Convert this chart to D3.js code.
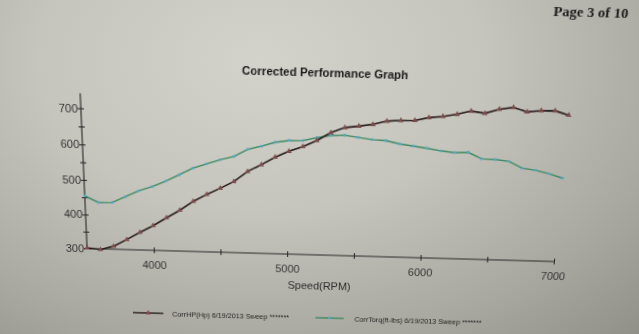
<!DOCTYPE html>
<html><head><meta charset="utf-8">
<script src="https://cdn.jsdelivr.net/npm/d3@7"></script>
<style>
html,body{margin:0;padding:0;width:639px;height:334px;overflow:hidden;}
body{background: radial-gradient(ellipse 560px 380px at 260px 60px, #d3d3cb 0%, #c6c5bd 40%, #a9a8a0 75%, #8f8e87 100%);}
#chart{position:absolute;left:0;top:0;transform-origin:320px 255px;transform:rotate(1.6deg) perspective(800px) rotateX(-14deg);}
</style></head><body>
<svg id="chart" width="639" height="334"></svg>
<script>
const rpm = [3500,3600,3700,3800,3900,4000,4100,4200,4300,4400,4500,4600,4700,4800,4900,5000,5100,5200,5300,5400,5500,5600,5700,5800,5900,6000,6100,6200,6300,6400,6500,6600,6700,6800,6900,7000];
const corrHP = [302,298,309,330,352,373,397,420,447,468,487,507,537,557,579,597,611,629,652,667,672,678,688,691,692,701,705,712,722,717,729,735,724,728,729,718];
const corrTorque = [454,436,437,455,473,486,503,522,542,555,568,578,599,609,621,627,628,637,644,646,641,636,634,626,621,616,610,606,608,591,590,586,568,563,554,543];
const xTicks = [4000,4500,5000,5500,6000,6500,7000];
const xTickLabels = [4000,5000,6000,7000];
const yTicks = [300,350,400,450,500,550,600,650,700];
const yTickLabels = [300,400,500,600,700];
const seriesNames = ["CorrHP(Hp) 6/19/2013 Sweep *******","CorrTorq(ft-lbs) 6/19/2013 Sweep *******"];
const titleText = "Corrected Performance Graph";
const pageText = "Page 3 of 10";
const xAxisTitle = "Speed(RPM)";

const svg = d3.select("#chart");
const x = d3.scaleLinear().domain([3500,7000]).range([87,554]);
const y = d3.scaleLinear().domain([300,700]).range([255,116.7]);
const yTop = 740;

const hpLine = "#2a1f1f", hpMark = "#7d4c4c";
const tqLine = "#3f8a62", tqMark = "#55a6c2";
const axisCol = "#262626";

svg.append("text").attr("x",565).attr("y",20).attr("text-anchor","middle")
  .attr("font-family","'Liberation Serif',serif").attr("font-weight","bold").attr("font-size",13.5)
  .attr("fill","#1c1c1c").text(pageText);
svg.append("text").attr("x",320).attr("y",81).attr("text-anchor","middle")
  .attr("font-family","'Liberation Sans',Arial,sans-serif").attr("font-weight","bold").attr("font-size",11)
  .attr("fill","#1c1c1c").text(titleText);

// y axis
const yAxis = d3.axisLeft(y).tickValues(yTicks).tickSize(3)
  .tickFormat(d => yTickLabels.includes(d) ? d : "");
const gy = svg.append("g").attr("transform",`translate(${x(3500)},0)`).call(yAxis);
gy.select(".domain").remove();
gy.selectAll(".tick line").attr("x1",-3).attr("x2",3).attr("stroke",axisCol);
gy.selectAll(".tick text").attr("x",-3).attr("font-family","'Liberation Sans',Arial,sans-serif")
  .attr("font-size",11).attr("fill","#333");
svg.append("line").attr("x1",x(3500)).attr("x2",x(3500)).attr("y1",y(300)).attr("y2",y(yTop))
  .attr("stroke",axisCol).attr("stroke-width",1.1);

// x axis
const xAxis = d3.axisBottom(x).tickValues(xTicks).tickSize(3)
  .tickFormat(d => xTickLabels.includes(d) ? d : "");
const gx = svg.append("g").attr("transform",`translate(0,${y(300)})`).call(xAxis);
gx.select(".domain").remove();
gx.selectAll(".tick line").attr("y1",-3).attr("y2",3).attr("stroke",axisCol);
gx.selectAll(".tick text").attr("y",19.5).attr("dy",0).attr("font-family","'Liberation Sans',Arial,sans-serif")
  .attr("font-size",11).attr("fill","#333");
svg.append("line").attr("x1",x(3500)).attr("x2",x(7000)).attr("y1",y(300)).attr("y2",y(300))
  .attr("stroke",axisCol).attr("stroke-width",1.1);

svg.append("text").attr("x",320).attr("y",291).attr("text-anchor","middle")
  .attr("font-family","'Liberation Sans',Arial,sans-serif").attr("font-size",11)
  .attr("fill","#2a2a2a").text(xAxisTitle);

const line = d3.line().x(d => x(d[0])).y(d => y(d[1]));
const hpData = rpm.map((r,i) => [r, corrHP[i]]);
const tqData = rpm.map((r,i) => [r, corrTorque[i]]);

svg.append("path").datum(tqData).attr("d",line).attr("fill","none").attr("stroke",tqLine).attr("stroke-width",1.4);
svg.selectAll(".tqm").data(tqData).enter().append("circle").attr("class","tqm")
  .attr("cx",d=>x(d[0])).attr("cy",d=>y(d[1])).attr("r",1.4).attr("fill",tqMark);

svg.append("path").datum(hpData).attr("d",line).attr("fill","none").attr("stroke",hpLine).attr("stroke-width",1.6);
const tri = d3.symbol().type(d3.symbolTriangle).size(13);
svg.selectAll(".hpm").data(hpData).enter().append("path").attr("class","hpm")
  .attr("d",tri).attr("transform",d=>`translate(${x(d[0])},${y(d[1])})`).attr("fill",hpMark);

// legend
const leg = [
  {x1:131, x2:162, tx:171, name:seriesNames[0], lc:hpLine, mc:hpMark, tri:true},
  {x1:317, x2:346, tx:357, name:seriesNames[1], lc:tqLine, mc:tqMark, tri:false}
];
leg.forEach(l => {
  svg.append("line").attr("x1",l.x1).attr("x2",l.x2).attr("y1",321).attr("y2",321)
    .attr("stroke",l.lc).attr("stroke-width",1.5);
  if (l.tri) svg.append("path").attr("d",tri).attr("transform",`translate(${(l.x1+l.x2)/2},321)`).attr("fill",l.mc);
  else svg.append("circle").attr("cx",(l.x1+l.x2)/2).attr("cy",321).attr("r",1.4).attr("fill",l.mc);
  svg.append("text").attr("x",l.tx).attr("y",324).attr("font-family","'Liberation Sans',Arial,sans-serif")
    .attr("font-size",7.3).attr("fill","#222").text(l.name);
});
</script>
</body></html>
